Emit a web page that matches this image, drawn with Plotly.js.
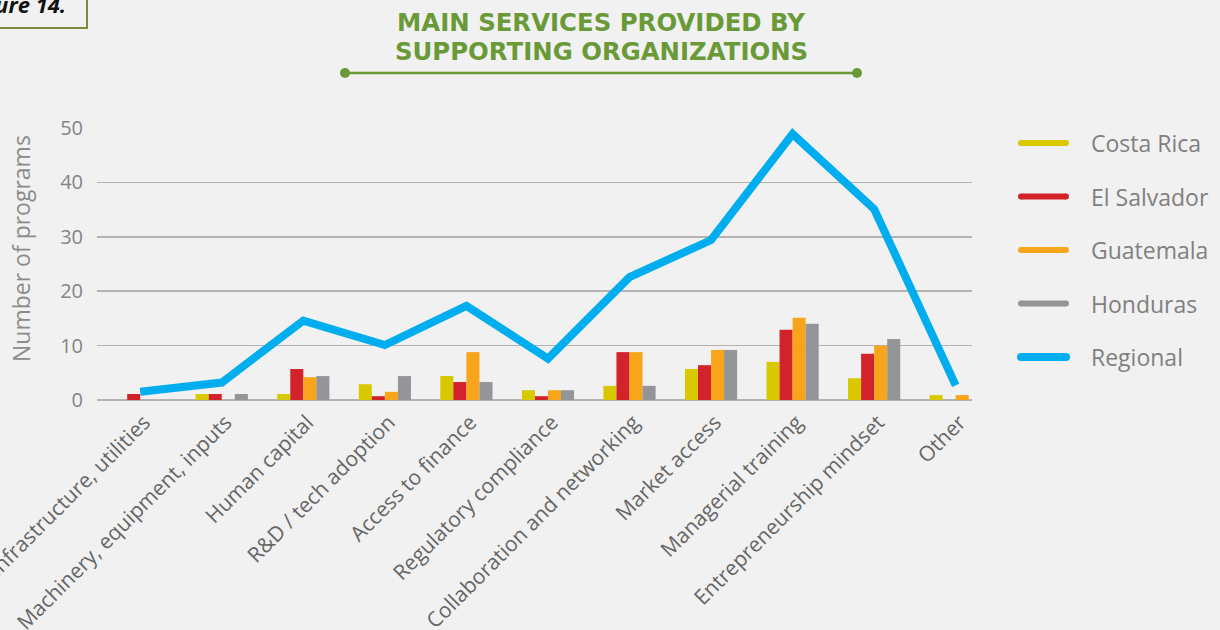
<!DOCTYPE html>
<html>
<head>
<meta charset="utf-8">
<script src="https://cdn.plot.ly/plotly-3.0.1.min.js"></script>
<style>
  html, body { margin: 0; padding: 0; background: #f1f1f1; }
  #chart { width: 1220px; height: 630px; }
</style>
</head>
<body>
<div id="chart"></div>
<script>
const categories = [
  "Infrastructure, utilities",
  "Machinery, equipment, inputs",
  "Human capital",
  "R&D / tech adoption",
  "Access to finance",
  "Regulatory compliance",
  "Collaboration and networking",
  "Market access",
  "Managerial training",
  "Entrepreneurship mindset",
  "Other"
];
const costaRica  = [0, 1.1, 1.1, 2.9, 4.4, 1.8, 2.6, 5.7, 7.0, 4.0, 0.9];
const elSalvador = [1.1, 1.1, 5.7, 0.7, 3.3, 0.7, 8.8, 6.4, 12.9, 8.5, 0];
const guatemala  = [0, 0, 4.2, 1.5, 8.8, 1.8, 8.8, 9.2, 15.1, 10.0, 0.9];
const honduras   = [0, 1.1, 4.4, 4.4, 3.3, 1.8, 2.6, 9.2, 14.0, 11.2, 0];
const regional   = [1.5, 3.2, 14.6, 10.1, 17.3, 7.6, 22.6, 29.4, 48.9, 35.1, 2.7];

const seriesNames = ["Costa Rica", "El Salvador", "Guatemala", "Honduras", "Regional"];
const seriesColors = ["#d8c800", "#d2232a", "#f8a51b", "#939598", "#00aeef"];
const barSeries = [costaRica, elSalvador, guatemala, honduras];
const yTicks = [0, 10, 20, 30, 40, 50];
const yTickText = ["0", "10", "20", "30", "40", "50"];
const titleLines = ["MAIN SERVICES PROVIDED BY", "SUPPORTING ORGANIZATIONS"];
const yTitle = "Number of programs";
const figureLabel = "Figure 14.";

const xIdx = categories.map((c, i) => i);

const traces = barSeries.map((vals, i) => ({
  type: "bar",
  x: xIdx,
  y: vals,
  name: seriesNames[i],
  marker: { color: seriesColors[i] },
  showlegend: false,
  hoverinfo: "skip"
}));
traces.push({
  type: "scatter",
  mode: "lines",
  x: xIdx,
  y: regional,
  name: seriesNames[4],
  line: { color: seriesColors[4], width: 8, shape: "linear" },
  showlegend: false,
  hoverinfo: "skip"
});

// plot area geometry helpers (paper coords)
const L = 97, R = 972, T = 128, B = 400;
const px = x => (x - L) / (R - L);
const py = y => (B - y) / (B - T);
const green = "#6a9a38";

const shapes = [
  // title underline
  { type: "line", xref: "paper", yref: "paper", x0: px(345), x1: px(857), y0: py(73), y1: py(73),
    line: { color: green, width: 2.5 } },
  { type: "circle", xref: "paper", yref: "paper", x0: px(340), x1: px(350), y0: py(68), y1: py(78),
    fillcolor: green, line: { color: green, width: 0 } },
  { type: "circle", xref: "paper", yref: "paper", x0: px(852), x1: px(862), y0: py(68), y1: py(78),
    fillcolor: green, line: { color: green, width: 0 } },
  // figure label box
  { type: "rect", xref: "paper", yref: "paper", x0: px(-60), x1: px(87), y0: py(28), y1: py(-20),
    line: { color: "#7a8c3c", width: 2 }, fillcolor: "rgba(0,0,0,0)" }
];
const annotations = [
  { xref: "paper", yref: "paper", x: px(68), y: py(4), xanchor: "right", yanchor: "middle",
    text: "<b><i>" + figureLabel + "</i></b>", showarrow: false,
    font: { family: "Open Sans, sans-serif", size: 22, color: "#111" } },
  // second title line
  { xref: "paper", yref: "paper", x: px(601), y: py(51.5), xanchor: "center", yanchor: "middle",
    text: "<b>" + titleLines[1] + "</b>", showarrow: false,
    font: { family: "DejaVu Sans, sans-serif", size: 24.4, color: green } },
  // y axis title
  { xref: "paper", yref: "paper", x: px(21), y: py(249), xanchor: "center", yanchor: "middle",
    textangle: -90, text: yTitle, showarrow: false,
    font: { family: "Open Sans, sans-serif", size: 23, color: "#8c8c8c" } }
];

// custom legend with long line keys
seriesNames.forEach((name, i) => {
  const yc = 143 + i * 53.5;
  const w = i === 4 ? 8 : 6;
  shapes.push({ type: "line", xref: "paper", yref: "paper",
    x0: px(1021), x1: px(1066), y0: py(yc), y1: py(yc),
    line: { color: seriesColors[i], width: w } });
  // rounded caps
  [1021, 1066].forEach(cx => shapes.push({ type: "circle", xref: "paper", yref: "paper",
    x0: px(cx - w / 2), x1: px(cx + w / 2), y0: py(yc + w / 2), y1: py(yc - w / 2),
    fillcolor: seriesColors[i], line: { width: 0 } }));
  annotations.push({ xref: "paper", yref: "paper", x: px(1089), y: py(yc),
    xanchor: "left", yanchor: "middle", text: name, showarrow: false,
    font: { family: "Open Sans, sans-serif", size: 23, color: "#808080" } });
});

const layout = {
  width: 1220, height: 630,
  paper_bgcolor: "#f1f1f1",
  plot_bgcolor: "#f1f1f1",
  margin: { l: L, r: 1220 - R, t: T, b: 630 - B, pad: 0 },
  barmode: "group",
  bargap: 0.36,
  bargroupgap: 0,
  showlegend: false,
  title: {
    text: "<b>" + titleLines[0] + "</b>",
    font: { family: "DejaVu Sans, sans-serif", size: 24.4, color: green },
    x: 601 / 1220, xref: "container", xanchor: "center",
    y: 1 - 22.5 / 630, yref: "container", yanchor: "middle"
  },
  xaxis: {
    type: "linear",
    range: [-0.53, 10.2],
    tickmode: "array",
    tickvals: xIdx,
    ticktext: categories,
    tickangle: -45,
    tickfont: { family: "Open Sans, sans-serif", size: 21, color: "#666666" },
    showgrid: false,
    zeroline: false,
    showline: false,
    ticks: "",
    ticklabelstandoff: 5,
    ticklabelshift: 4,
    ticklabeloverflow: "allow",
    automargin: false
  },
  yaxis: {
    range: [0, 50],
    tickmode: "array",
    tickvals: yTicks,
    ticktext: yTickText,
    tickfont: { family: "Open Sans, sans-serif", size: 20, color: "#858585" },
    showgrid: true,
    gridcolor: "#b5b2b2",
    gridwidth: 1.5,
    zeroline: true,
    zerolinecolor: "#b5b2b2",
    zerolinewidth: 2,
    showline: false,
    ticks: "",
    ticklabelstandoff: 13,
    automargin: false
  },
  shapes: shapes,
  annotations: annotations
};

Plotly.newPlot("chart", traces, layout, { staticPlot: true, displayModeBar: false });
</script>
</body>
</html>
